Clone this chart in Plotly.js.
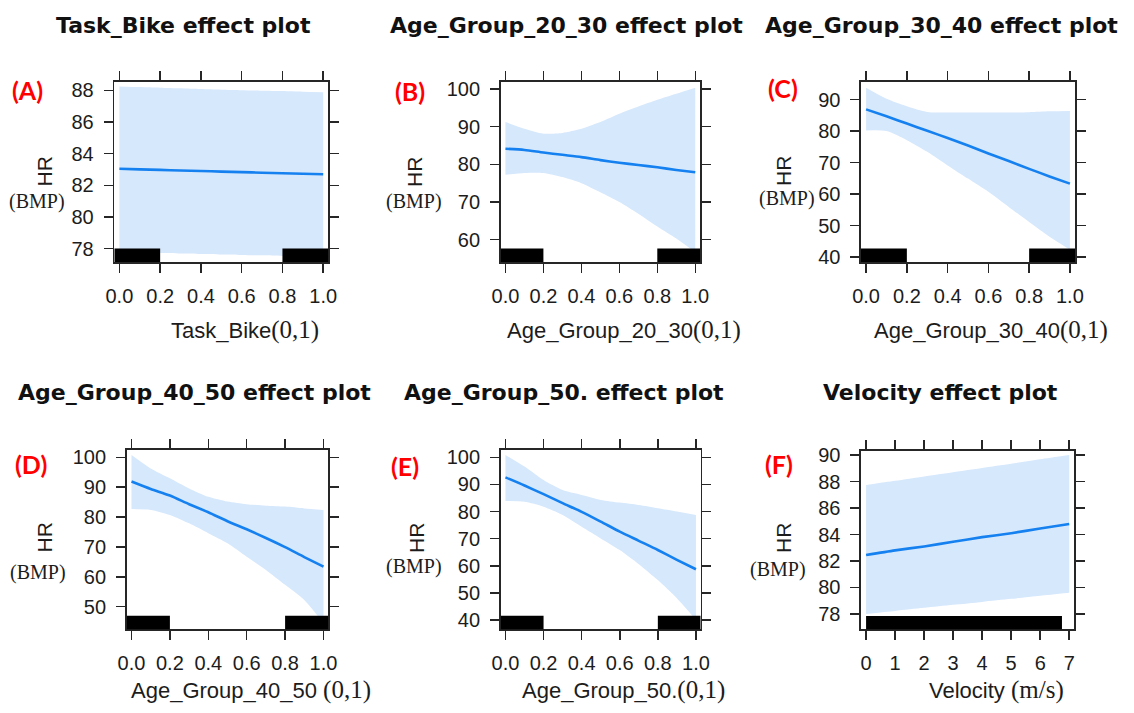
<!DOCTYPE html>
<html>
<head>
<meta charset="utf-8">
<script src="https://cdn.plot.ly/plotly-3.0.1.min.js"></script>
<style>html,body{margin:0;padding:0;background:#fff;}</style>
</head>
<body>
<div id="chart" style="width:1134px;height:713px;"></div>
<script>
// ---------------- DATA ----------------
const binX = [0, 0.1, 0.2, 0.3, 0.4, 0.5, 0.6, 0.7, 0.8, 0.9, 1.0];
const binTicks = [0, 0.2, 0.4, 0.6, 0.8, 1.0];
const binTickText = ['0.0', '0.2', '0.4', '0.6', '0.8', '1.0'];

const taskFit   = [83.05, 83.01, 82.98, 82.94, 82.91, 82.87, 82.84, 82.80, 82.77, 82.73, 82.70];
const taskUpper = [88.25, 88.21, 88.17, 88.13, 88.08, 88.04, 88.01, 87.98, 87.96, 87.92, 87.89];
const taskLower = [77.74, 77.73, 77.73, 77.70, 77.67, 77.64, 77.61, 77.58, 77.54, 77.52, 77.51];
const taskTicks = [78, 80, 82, 84, 86, 88];
const taskRug = [[-0.025, 0.2], [0.8, 1.025]];

const age2030Fit   = [84.1, 83.8, 83.1, 82.5, 81.9, 81.1, 80.4, 79.8, 79.2, 78.5, 77.9];
const age2030Upper = [91.2, 89.4, 88.1, 88.3, 89.4, 91.2, 93.4, 95.3, 97.1, 98.7, 100.3];
const age2030Lower = [77.2, 77.7, 77.7, 76.6, 75.0, 72.6, 70.0, 66.9, 63.5, 60.3, 56.7];
const age2030Ticks = [60, 70, 80, 90, 100];
const age2030Rug = [[-0.025, 0.2], [0.8, 1.025]];

const age3040Fit   = [86.9, 84.7, 82.4, 80.1, 77.8, 75.4, 72.9, 70.5, 68.0, 65.6, 63.3];
const age3040Upper = [93.8, 90.3, 87.9, 86.1, 85.9, 85.9, 85.9, 85.9, 86.0, 86.3, 86.4];
const age3040Lower = [80.2, 80.0, 77.1, 73.4, 69.1, 64.9, 60.7, 55.9, 51.1, 46.4, 42.3];
const age3040Ticks = [40, 50, 60, 70, 80, 90];
const age3040Rug = [[-0.025, 0.2], [0.8, 1.025]];

const age4050Fit   = [91.9, 89.4, 87.2, 84.3, 81.6, 78.6, 75.9, 73.0, 69.9, 66.6, 63.4];
const age4050Upper = [100.8, 96.3, 93.0, 89.6, 86.8, 85.2, 84.3, 83.8, 83.5, 82.9, 82.4];
const age4050Lower = [82.7, 82.4, 80.7, 77.9, 74.6, 71.2, 66.7, 62.3, 57.3, 52.2, 44.4];
const age4050Ticks = [50, 60, 70, 80, 90, 100];
const age4050Rug = [[-0.025, 0.2], [0.8, 1.025]];

const age50Fit   = [92.6, 89.6, 86.4, 83.1, 79.9, 76.3, 72.6, 69.2, 65.8, 62.2, 58.7];
const age50Upper = [100.9, 96.6, 91.6, 87.9, 86.1, 84.3, 83.3, 82.4, 81.2, 80.0, 78.7];
const age50Lower = [83.9, 83.6, 81.8, 78.7, 74.4, 70.1, 65.8, 60.6, 54.7, 48.0, 40.0];
const age50Ticks = [40, 50, 60, 70, 80, 90, 100];
const age50Rug = [[-0.025, 0.2], [0.8, 1.025]];

const velX     = [0, 1, 2, 3, 4, 5, 6, 7];
const velFit   = [82.45, 82.8, 83.1, 83.45, 83.8, 84.1, 84.45, 84.8];
const velUpper = [87.74, 88.06, 88.39, 88.71, 89.03, 89.35, 89.68, 90.0];
const velLower = [78.0, 78.23, 78.46, 78.69, 78.91, 79.14, 79.37, 79.6];
const velXTicks = [0, 1, 2, 3, 4, 5, 6, 7];
const velTicks = [78, 80, 82, 84, 86, 88, 90];
const velRug = [[0, 6.75]];

const panelTitles = ['Task_Bike effect plot', 'Age_Group_20_30 effect plot', 'Age_Group_30_40 effect plot',
                     'Age_Group_40_50 effect plot', 'Age_Group_50. effect plot', 'Velocity effect plot'];
const panelLetters = ['(A)', '(B)', '(C)', '(D)', '(E)', '(F)'];
const xNames = ['Task_Bike', 'Age_Group_20_30', 'Age_Group_30_40', 'Age_Group_40_50 ', 'Age_Group_50.', 'Velocity '];
const xUnits = ['(0,1)', '(0,1)', '(0,1)', '(0,1)', '(0,1)', '(m/s)'];
const yName = 'HR';
const yUnit = '(BMP)';

// ---------------- LAYOUT (pixel geometry) ----------------
const W = 1134, H = 713;
const fx = p => p / W;
const fy = p => 1 - p / H;

const panels = [
  {x: binX, fit: taskFit, up: taskUpper, lo: taskLower, xt: binTicks, xtt: binTickText, yt: taskTicks, rug: taskRug,
   box: [114.3, 328.3, 82, 262], xr: [-0.025, 1.025], yr: [77.16, 88.53],
   title: [183, 25], letter: [27, 90], hr: [43.5, 172], bmp: [37, 201], xlab: [245, 330]},
  {x: binX, fit: age2030Fit, up: age2030Upper, lo: age2030Lower, xt: binTicks, xtt: binTickText, yt: age2030Ticks, rug: age2030Rug,
   box: [500.7, 700, 82, 262], xr: [-0.025, 1.025], yr: [54.1, 101.8],
   title: [566, 25], letter: [410, 91], hr: [414, 172], bmp: [414, 201], xlab: [624, 330]},
  {x: binX, fit: age3040Fit, up: age3040Upper, lo: age3040Lower, xt: binTicks, xtt: binTickText, yt: age3040Ticks, rug: age3040Rug,
   box: [861, 1075, 82, 262], xr: [-0.025, 1.025], yr: [38.4, 95.6],
   title: [941, 25], letter: [783, 88], hr: [784, 171], bmp: [787, 199], xlab: [991, 330]},
  {x: binX, fit: age4050Fit, up: age4050Upper, lo: age4050Lower, xt: binTicks, xtt: binTickText, yt: age4050Ticks, rug: age4050Rug,
   box: [126.7, 328.3, 450, 629.3], xr: [-0.025, 1.025], yr: [42.4, 102.46],
   title: [194, 392], letter: [31, 464], hr: [43.5, 538], bmp: [38, 572], xlab: [251, 690]},
  {x: binX, fit: age50Fit, up: age50Upper, lo: age50Lower, xt: binTicks, xtt: binTickText, yt: age50Ticks, rug: age50Rug,
   box: [500.7, 700.7, 450, 629.3], xr: [-0.025, 1.025], yr: [36.56, 102.7],
   title: [564, 392], letter: [405, 466], hr: [416, 538], bmp: [414, 566], xlab: [623, 690]},
  {x: velX, fit: velFit, up: velUpper, lo: velLower, xt: velXTicks, xtt: velXTicks.map(String), yt: velTicks, rug: velRug,
   box: [861, 1074.3, 450.7, 629.3], xr: [-0.175, 7.175], yr: [76.84, 90.33],
   title: [940, 392], letter: [779, 464], hr: [783, 538], bmp: [778, 569], xlab: [996, 690]}
];

const bandColor = '#d6e8fc';
const lineColor = '#1580f0';
const frameColor = '#262626';
const textColor = '#1c1c1c';

const traces = [];
const shapes = [];
const annotations = [];
const layout = {
  width: W, height: H,
  margin: {l: 0, r: 0, t: 0, b: 0},
  paper_bgcolor: '#ffffff', plot_bgcolor: '#ffffff',
  showlegend: false,
  font: {family: 'Liberation Sans, Arial, sans-serif', color: textColor, size: 20}
};

panels.forEach((p, i) => {
  const n = i === 0 ? '' : String(i + 1);
  const xa = 'x' + n, ya = 'y' + n;
  const axBase = {
    showgrid: false, zeroline: false, showline: true, linecolor: frameColor, linewidth: 1.6,
    mirror: 'allticks', ticks: 'outside', ticklen: 9, tickwidth: 1.5, tickcolor: frameColor,
    tickfont: {size: 20, color: textColor, family: 'Liberation Sans, Arial, sans-serif'},
    fixedrange: true, ticklabelstandoff: 6
  };
  layout['xaxis' + n] = Object.assign({}, axBase, {
    domain: [fx(p.box[0]), fx(p.box[1])], range: p.xr, anchor: ya,
    tickvals: p.xt, ticktext: p.xtt
  });
  layout['yaxis' + n] = Object.assign({}, axBase, {
    domain: [fy(p.box[3]), fy(p.box[2])], range: p.yr, anchor: xa,
    tickvals: p.yt, ticktext: p.yt.map(String)
  });

  traces.push({x: p.x, y: p.lo, xaxis: xa, yaxis: ya, type: 'scatter', mode: 'lines',
               line: {width: 0, color: bandColor, shape: 'spline', smoothing: 0.7}, hoverinfo: 'skip'});
  traces.push({x: p.x, y: p.up, xaxis: xa, yaxis: ya, type: 'scatter', mode: 'lines',
               line: {width: 0, color: bandColor, shape: 'spline', smoothing: 0.7},
               fill: 'tonexty', fillcolor: bandColor, hoverinfo: 'skip'});
  traces.push({x: p.x, y: p.fit, xaxis: xa, yaxis: ya, type: 'scatter', mode: 'lines',
               line: {width: 2.6, color: lineColor, shape: 'spline', smoothing: 0.7}});

  p.rug.forEach(r => {
    shapes.push({type: 'rect', xref: xa, yref: ya + ' domain', x0: r[0], x1: r[1], y0: 0, y1: 0.075,
                 fillcolor: '#000000', line: {width: 0}, layer: 'above'});
  });

  annotations.push({xref: 'paper', yref: 'paper', x: fx(p.title[0]), y: fy(p.title[1]),
    xanchor: 'center', yanchor: 'middle', showarrow: false, text: '<b>' + panelTitles[i] + '</b>',
    font: {family: 'DejaVu Sans, sans-serif', size: 22, color: '#111111'}});
  annotations.push({xref: 'paper', yref: 'paper', x: fx(p.letter[0]), y: fy(p.letter[1]),
    xanchor: 'center', yanchor: 'middle', showarrow: false, text: '<b>' + panelLetters[i] + '</b>',
    font: {family: 'Lato, Open Sans, sans-serif', size: 25, color: '#ff0000'}});
  annotations.push({xref: 'paper', yref: 'paper', x: fx(p.hr[0]), y: fy(p.hr[1]),
    xanchor: 'center', yanchor: 'middle', showarrow: false, textangle: -90, text: yName,
    font: {family: 'Liberation Sans, Arial, sans-serif', size: 21, color: textColor}});
  annotations.push({xref: 'paper', yref: 'paper', x: fx(p.bmp[0]), y: fy(p.bmp[1]),
    xanchor: 'center', yanchor: 'middle', showarrow: false, text: yUnit,
    font: {family: 'Liberation Serif, Times New Roman, serif', size: 20, color: textColor}});
  annotations.push({xref: 'paper', yref: 'paper', x: fx(p.xlab[0]), y: fy(p.xlab[1]),
    xanchor: 'center', yanchor: 'middle', showarrow: false,
    text: xNames[i] + '<span style="font-family:Liberation Serif, Times New Roman, serif;font-size:25px">' + xUnits[i] + '</span>',
    font: {family: 'Liberation Sans, Arial, sans-serif', size: 22, color: textColor}});
});

layout.shapes = shapes;
layout.annotations = annotations;

Plotly.newPlot('chart', traces, layout, {displayModeBar: false, staticPlot: true});
</script>
</body>
</html>
